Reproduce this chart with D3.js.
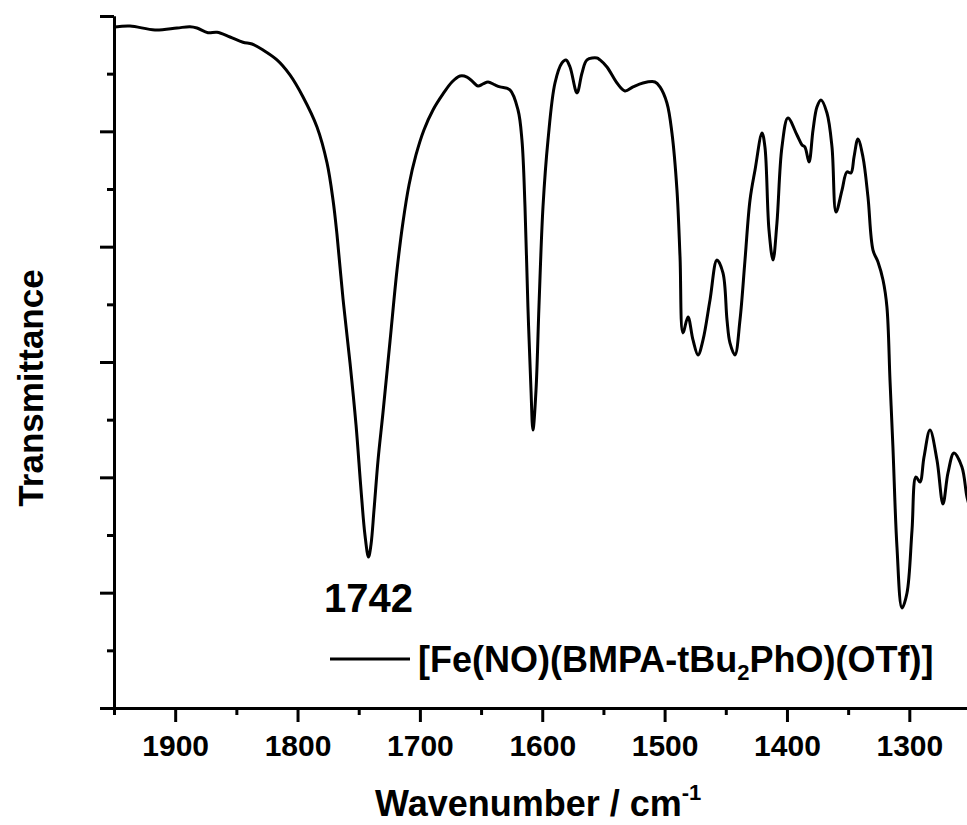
<!DOCTYPE html>
<html lang="en">
<head>
<meta charset="utf-8">
<title>IR spectrum</title>
<script src="https://d3js.org/d3.v7.min.js"></script>
<style>
  body { margin: 0; background: #fff; }
  svg { display: block; font-family: "Liberation Sans", Arial, sans-serif; }
  .axis path, .axis line { stroke: #000; stroke-width: 3; }
  .axis text { fill: #000; font-weight: bold; font-size: 30px; }
</style>
</head>
<body>
<script>
// spectrum: wavenumber (cm-1) and transmittance (arb.)
var wavenumber = [1949.2,1936.9,1916.5,1898.5,1887.9,1882.2,1873.2,1865.8,1855.2,1844.6,
  1837.2,1828.2,1816.8,1806.2,1795.5,1784.1,1775.9,1771.0,1767.8,1762.8,
  1757.1,1752.2,1748.1,1744.9,1742.0,1740.0,1737.5,1734.2,1730.2,1724.4,
  1718.7,1713.8,1708.9,1703.2,1696.7,1689.3,1681.1,1673.8,1667.2,1661.5,1656.6,
  1652.5,1648.4,1644.3,1638.6,1634.5,1626.4,1619.8,1616.6,1614.1,1611.7,
  1609.2,1607.6,1605.1,1602.7,1599.4,1595.3,1589.6,1583.9,1580.6,1577.3,
  1571.6,1567.5,1563.4,1555.3,1552.8,1547.1,1538.9,1532.4,1525.8,1517.7,
  1507.9,1503.8,1498.1,1494.0,1489.9,1487.4,1485.0,1480.9,1476.8,1472.7,
  1468.6,1462.9,1457.2,1452.3,1449.0,1446.6,1442.5,1438.4,1434.3,1430.2,
  1426.1,1420.4,1418.0,1414.7,1411.4,1408.2,1404.1,1399.2,1391.8,1387.7,
  1385.3,1382.0,1378.7,1375.5,1372.2,1367.3,1363.2,1359.9,1355.0,1351.0,
  1347.7,1345.2,1342.0,1337.9,1333.8,1329.7,1325.6,1321.5,1318.3,1315.8,
  1313.4,1310.1,1306.0,1301.9,1297.8,1294.6,1291.3,1288.0,1283.1,1277.4,
  1272.5,1268.4,1263.5,1257.0,1252.9,1250.0];
var transmittance = [5.905,5.913,5.879,5.896,5.907,5.896,5.855,5.859,5.818,5.772,
  5.757,5.705,5.619,5.489,5.298,5.038,4.726,4.405,4.110,3.546,
  2.991,2.454,1.890,1.500,1.309,1.413,1.717,2.150,2.558,3.182,
  3.798,4.214,4.535,4.795,5.012,5.185,5.324,5.428,5.480,5.471,5.428,
  5.393,5.411,5.428,5.402,5.385,5.359,5.185,4.925,4.344,3.477,
  2.757,2.410,2.757,3.477,4.344,4.925,5.419,5.593,5.619,5.558,
  5.333,5.506,5.619,5.636,5.619,5.558,5.419,5.350,5.385,5.419,
  5.428,5.385,5.246,4.986,4.491,3.911,3.252,3.390,3.191,3.061,
  3.191,3.538,3.884,3.772,3.364,3.165,3.061,3.364,3.884,4.405,
  4.665,4.986,4.864,4.145,3.884,4.205,4.864,5.116,4.968,4.882,
  4.864,4.734,5.012,5.211,5.272,5.159,4.864,4.301,4.491,4.648,
  4.639,4.778,4.934,4.778,4.431,3.971,3.867,3.711,3.477,2.844,
  2.263,1.396,0.867,0.997,1.543,2.003,1.960,2.176,2.410,2.150,
  1.769,2.038,2.211,2.090,1.830,1.720];

var majorX = [1900,1800,1700,1600,1500,1400,1300];
var minorX = [1950,1850,1750,1650,1550,1450,1350,1250];
var majorY = [0,1,2,3,4,5,6];
var minorY = [0.5,1.5,2.5,3.5,4.5,5.5];

var seriesName = "[Fe(NO)(BMPA-tBu";
var peakLabel = "1742";

var width = 967, height = 825;
var x0 = 114, x1 = 970.5, yTop = 16, yBot = 708;

var svg = d3.select("body").append("svg")
    .attr("width", width)
    .attr("height", height);

var x = d3.scaleLinear().domain([1950, 1250]).range([x0, x1]);
var y = d3.scaleLinear().domain([0, 6]).range([yBot, yTop]);

// minor ticks first, then major with labels
svg.append("g")
    .attr("class", "axis")
    .attr("transform", "translate(0," + yBot + ")")
    .call(d3.axisBottom(x).tickValues(minorX).tickSize(7).tickSizeOuter(0).tickFormat(""));

var gx = svg.append("g")
    .attr("class", "axis")
    .attr("transform", "translate(0," + yBot + ")")
    .call(d3.axisBottom(x).tickValues(majorX).tickSize(14).tickSizeOuter(0).tickFormat(d3.format("d")));
gx.selectAll("text").attr("y", 48).attr("dy", 0);

svg.append("g")
    .attr("class", "axis")
    .attr("transform", "translate(" + x0 + ",0)")
    .call(d3.axisLeft(y).tickValues(minorY).tickSize(7).tickSizeOuter(0).tickFormat(""));

svg.append("g")
    .attr("class", "axis")
    .attr("transform", "translate(" + x0 + ",0)")
    .call(d3.axisLeft(y).tickValues(majorY).tickSize(14).tickSizeOuter(0).tickFormat(""));

// spectrum
var pts = wavenumber.map(function(w, i) { return [w, transmittance[i]]; });
var line = d3.line()
    .x(function(d) { return x(d[0]); })
    .y(function(d) { return y(d[1]); })
    .curve(d3.curveCatmullRom.alpha(0.5));

svg.append("path")
    .datum(pts)
    .attr("fill", "none")
    .attr("stroke", "#000")
    .attr("stroke-width", 3)
    .attr("stroke-linejoin", "round")
    .attr("d", line);

// peak label
svg.append("text")
    .attr("x", x(1742))
    .attr("y", 612)
    .attr("text-anchor", "middle")
    .attr("font-size", "40px")
    .attr("font-weight", "bold")
    .text(peakLabel);

// legend
svg.append("line")
    .attr("x1", 330).attr("x2", 410)
    .attr("y1", 659).attr("y2", 659)
    .attr("stroke", "#000")
    .attr("stroke-width", 3);

var leg = svg.append("text")
    .attr("x", 418)
    .attr("y", 672)
    .attr("font-size", "36px")
    .attr("font-weight", "bold");
leg.append("tspan").text(seriesName);
leg.append("tspan").attr("font-size", "22px").attr("dy", 8).text("2");
leg.append("tspan").attr("dy", -8).text("PhO)(OTf)]");

// axis titles
var xt = svg.append("text")
    .attr("x", 375)
    .attr("y", 816)
    .attr("font-size", "36px")
    .attr("font-weight", "bold");
xt.append("tspan").text("Wavenumber / cm");
xt.append("tspan").attr("font-size", "22px").attr("dy", -16).text("-1");

svg.append("text")
    .attr("transform", "translate(43,388) rotate(-90)")
    .attr("text-anchor", "middle")
    .attr("font-size", "35px")
    .attr("font-weight", "bold")
    .text("Transmittance");
</script>
</body>
</html>
